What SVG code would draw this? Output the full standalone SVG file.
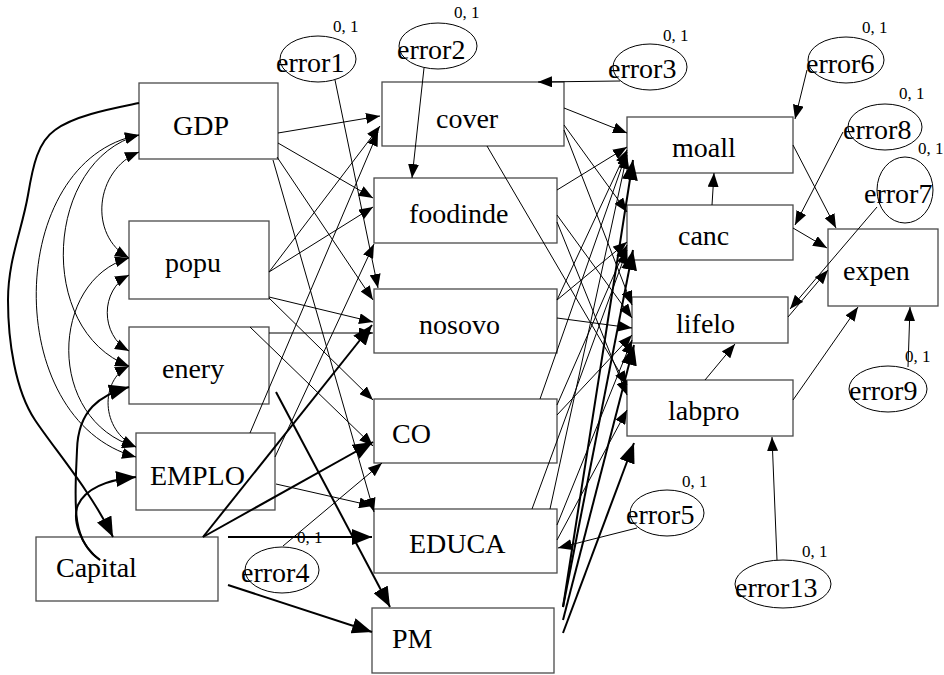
<svg xmlns="http://www.w3.org/2000/svg" width="944" height="675" viewBox="0 0 944 675">
<style>
  .box { fill: #ffffff; stroke: #4a4a4a; stroke-width: 1.3; }
  .err { fill: #ffffff; stroke: #000000; stroke-width: 1; }
  .lbl { font-family: "Liberation Serif", "Times New Roman", serif; font-size: 28px; fill: #000000; }
  .var { font-family: "Liberation Serif", "Times New Roman", serif; font-size: 17px; fill: #000000; }
  .ln { fill: none; stroke: #000000; stroke-width: 1; marker-end: url(#a); }
  .bold { fill: none; stroke: #000000; stroke-width: 2; marker-end: url(#A); }
  .cov { fill: none; stroke: #000000; stroke-width: 1; marker-start: url(#a); marker-end: url(#a); }
</style>
<defs>
  <marker id="a" viewBox="0 0 14 11" refX="14" refY="5.5" markerWidth="14" markerHeight="11" markerUnits="userSpaceOnUse" orient="auto-start-reverse">
    <path d="M0,0 L14,5.5 L0,11 z" fill="#000000"/>
  </marker>
  <marker id="A" viewBox="0 0 20 16" refX="20" refY="8" markerWidth="20" markerHeight="16" markerUnits="userSpaceOnUse" orient="auto-start-reverse">
    <path d="M0,0 L20,8 L0,16 z" fill="#000000"/>
  </marker>
</defs>

<!-- observed variables -->
<g id="GDP"><rect class="box" x="139" y="83" width="139" height="76"/><text class="lbl" x="173" y="135">GDP</text></g>
<g id="popu"><rect class="box" x="129" y="221" width="140" height="78"/><text class="lbl" x="165" y="272">popu</text></g>
<g id="enery"><rect class="box" x="129" y="327" width="140" height="77"/><text class="lbl" x="162" y="378">enery</text></g>
<g id="EMPLO"><rect class="box" x="136" y="433" width="139" height="77"/><text class="lbl" x="150" y="485">EMPLO</text></g>
<g id="Capital"><rect class="box" x="36" y="537" width="182" height="64"/><text class="lbl" x="56" y="577">Capital</text></g>

<g id="cover"><rect class="box" x="382" y="82" width="182" height="64"/><text class="lbl" x="436" y="128">cover</text></g>
<g id="foodinde"><rect class="box" x="374" y="178" width="183" height="65"/><text class="lbl" x="409" y="223">foodinde</text></g>
<g id="nosovo"><rect class="box" x="374" y="289" width="183" height="64"/><text class="lbl" x="419" y="334">nosovo</text></g>
<g id="CO"><rect class="box" x="374" y="399" width="183" height="64"/><text class="lbl" x="392" y="443">CO</text></g>
<g id="EDUCA"><rect class="box" x="374" y="509" width="183" height="64"/><text class="lbl" x="409" y="553">EDUCA</text></g>
<g id="PM"><rect class="box" x="372" y="608" width="182" height="65"/><text class="lbl" x="392" y="648">PM</text></g>

<g id="moall"><rect class="box" x="627" y="117" width="166" height="56"/><text class="lbl" x="672" y="157">moall</text></g>
<g id="canc"><rect class="box" x="627" y="205" width="166" height="55"/><text class="lbl" x="678" y="245">canc</text></g>
<g id="lifelo"><rect class="box" x="632" y="297" width="156" height="46"/><text class="lbl" x="676" y="333">lifelo</text></g>
<g id="labpro"><rect class="box" x="627" y="380" width="166" height="56"/><text class="lbl" x="668" y="420">labpro</text></g>
<g id="expen"><rect class="box" x="828" y="229" width="110" height="77"/><text class="lbl" x="843" y="280">expen</text></g>

<!-- error terms with their fixed mean and variance -->
<g id="error1"><ellipse class="err" cx="318" cy="59" rx="38" ry="23"/><text class="lbl" x="276" y="72">error1</text><text class="var" x="333" y="32">0, 1</text></g>
<g id="error2"><ellipse class="err" cx="438" cy="46" rx="39" ry="23"/><text class="lbl" x="397" y="59">error2</text><text class="var" x="454" y="18">0, 1</text></g>
<g id="error3"><ellipse class="err" cx="650" cy="67" rx="37" ry="23"/><text class="lbl" x="608" y="78">error3</text><text class="var" x="663" y="41">0, 1</text></g>
<g id="error6"><ellipse class="err" cx="846" cy="60" rx="38" ry="23"/><text class="lbl" x="806" y="73">error6</text><text class="var" x="862" y="33">0, 1</text></g>
<g id="error8"><ellipse class="err" cx="885" cy="127" rx="37" ry="23"/><text class="lbl" x="843" y="139">error8</text><text class="var" x="899" y="99">0, 1</text></g>
<g id="error7"><ellipse class="err" cx="905" cy="190" rx="28" ry="33"/><text class="lbl" x="864" y="203">error7</text><text class="var" x="918" y="154">0, 1</text></g>
<g id="error9"><ellipse class="err" cx="888" cy="389" rx="39" ry="23"/><text class="lbl" x="849" y="400">error9</text><text class="var" x="905" y="362">0, 1</text></g>
<g id="error5"><ellipse class="err" cx="667" cy="513" rx="37" ry="23"/><text class="lbl" x="626" y="524">error5</text><text class="var" x="682" y="487">0, 1</text></g>
<g id="error13"><ellipse class="err" cx="783" cy="584" rx="48" ry="24"/><text class="lbl" x="735" y="597">error13</text><text class="var" x="802" y="557">0, 1</text></g>
<g id="error4"><ellipse class="err" cx="282" cy="570" rx="37" ry="23"/><text class="lbl" x="241" y="582">error4</text><text class="var" x="297" y="543">0, 1</text></g>

<!-- connectors, drawn over the boxes they cross -->
<g id="connectors">
  <!-- covariances among the exogenous variables -->
  <path class="cov" d="M139,152 C 95,170 88,235 129,258"/>
  <path class="cov" d="M139,135 C 45,160 35,330 129,366"/>
  <path class="cov" d="M139,135 C 5,160 0,420 136,457"/>
  <path class="cov" d="M129,258 C 50,280 45,420 136,447"/>
  <path class="cov" d="M129,275 C 100,290 100,335 129,351"/>
  <path class="cov" d="M129,366 C 100,380 100,430 136,447"/>

  <!-- heavy paths around Capital -->
  <path class="bold" d="M139,103 C 115,108 75,115 55,130 C 38,142 33,165 28,195 C 22,230 8,260 8,300 C 8,340 15,390 35,420 C 55,450 90,490 113,537"/>
  <path class="bold" d="M100,560 C 70,540 75,500 77,450 C 78,410 100,395 129,387"/>
  <path class="bold" d="M100,560 C 80,545 72,520 78,505 C 85,490 105,480 136,477"/>
  <path class="bold" d="M203,537 L372,325"/>
  <path class="bold" d="M203,537 L373,442"/>
  <path class="bold" d="M228,537 L372,537"/>
  <path class="bold" d="M228,585 L372,632"/>
  <path class="bold" d="M276,392 L390,607"/>

  <!-- exogenous to middle column -->
  <path class="ln" d="M278,133 L380,116"/>
  <path class="ln" d="M278,143 L373,198"/>
  <path class="ln" d="M277,157 L373,300"/>
  <path class="ln" d="M273,160 L374,512"/>
  <path class="ln" d="M269,272 L380,126"/>
  <path class="ln" d="M269,272 L373,207"/>
  <path class="ln" d="M269,297 L373,322"/>
  <path class="ln" d="M269,298 L373,400"/>
  <path class="ln" d="M269,333 L373,333"/>
  <path class="ln" d="M250,327 L373,446"/>
  <path class="ln" d="M250,433 L378,132"/>
  <path class="ln" d="M275,457 L374,244"/>
  <path class="ln" d="M276,484 L373,506"/>

  <!-- error terms of the middle column -->
  <path class="ln" d="M335,80 L378,288"/>
  <path class="ln" d="M424,68 L412,178"/>
  <path class="ln" d="M620,81 L538,82"/>
  <path class="ln" d="M283,546 L382,463"/>
  <path class="ln" d="M637,528 L558,548"/>

  <!-- middle column to outcomes -->
  <path class="ln" d="M564,108 L627,133"/>
  <path class="ln" d="M564,125 L627,212"/>
  <path class="ln" d="M564,130 L632,305"/>
  <path class="ln" d="M487,146 L627,385"/>
  <path class="ln" d="M557,190 L627,147"/>
  <path class="ln" d="M557,215 L632,318"/>
  <path class="ln" d="M557,222 L627,395"/>
  <path class="ln" d="M557,300 L627,150"/>
  <path class="ln" d="M557,300 L627,242"/>
  <path class="ln" d="M557,318 L632,328"/>
  <path class="ln" d="M540,399 L627,152"/>
  <path class="ln" d="M557,405 L627,245"/>
  <path class="ln" d="M557,415 L632,335"/>
  <path class="ln" d="M550,509 L627,155"/>
  <path class="ln" d="M532,509 L627,250"/>
  <path class="ln" d="M557,525 L632,340"/>
  <path class="ln" d="M557,540 L627,410"/>
  <path class="bold" d="M563,607 L633,160"/>
  <path class="bold" d="M563,607 L633,250"/>
  <path class="bold" d="M563,620 L634,345"/>
  <path class="bold" d="M563,633 L634,443"/>

  <!-- outcome block -->
  <path class="ln" d="M793,145 L836,228"/>
  <path class="ln" d="M712,205 L714,173"/>
  <path class="ln" d="M793,228 L827,248"/>
  <path class="ln" d="M788,317 L828,270"/>
  <path class="ln" d="M877,207 L790,309"/>
  <path class="ln" d="M843,132 L795,225"/>
  <path class="ln" d="M807,70 L795,119"/>
  <path class="ln" d="M705,380 L735,344"/>
  <path class="ln" d="M793,400 L858,307"/>
  <path class="ln" d="M908,367 L910,307"/>
  <path class="ln" d="M777,560 L772,437"/>
</g>
</svg>
